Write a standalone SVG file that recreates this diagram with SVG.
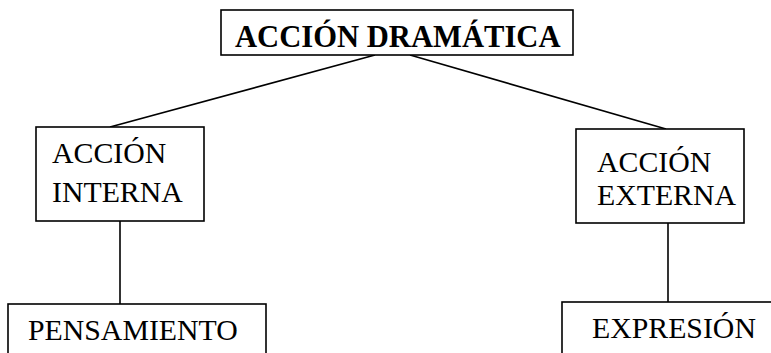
<svg xmlns="http://www.w3.org/2000/svg" width="771" height="353" viewBox="0 0 771 353">
<style>
.box{fill:#fff;stroke:#000;stroke-width:1.6}
.t{font-family:"Liberation Serif","Times New Roman",serif;font-size:29.8px;fill:#000}
.b{font-weight:bold;font-size:30.6px}
.c{stroke:#000;stroke-width:1.6;fill:none}
</style>
<rect width="771" height="353" fill="#fff"/>
<g id="connectors">
<line class="c" x1="375" y1="55" x2="110" y2="127"/>
<line class="c" x1="410" y1="55" x2="666" y2="129"/>
<line class="c" x1="120" y1="221" x2="120" y2="304"/>
<line class="c" x1="668" y1="223" x2="668" y2="302"/>
</g>
<g id="accion-dramatica">
<rect class="box" x="221" y="10" width="352" height="45"/>
<text class="t b" x="235" y="47">ACCIÓN DRAMÁTICA</text>
</g>
<g id="accion-interna">
<rect class="box" x="36" y="127" width="168" height="94"/>
<text class="t" x="52" y="163">ACCIÓN</text>
<text class="t" x="52" y="202">INTERNA</text>
</g>
<g id="accion-externa">
<rect class="box" x="576" y="129" width="168" height="94"/>
<text class="t" x="597" y="172">ACCIÓN</text>
<text class="t" x="597" y="205">EXTERNA</text>
</g>
<g id="pensamiento">
<rect class="box" x="8" y="304" width="258" height="80"/>
<text class="t" x="28" y="340">PENSAMIENTO</text>
</g>
<g id="expresion">
<rect class="box" x="562" y="302" width="240" height="80"/>
<text class="t" x="592" y="338">EXPRESIÓN</text>
</g>
</svg>
